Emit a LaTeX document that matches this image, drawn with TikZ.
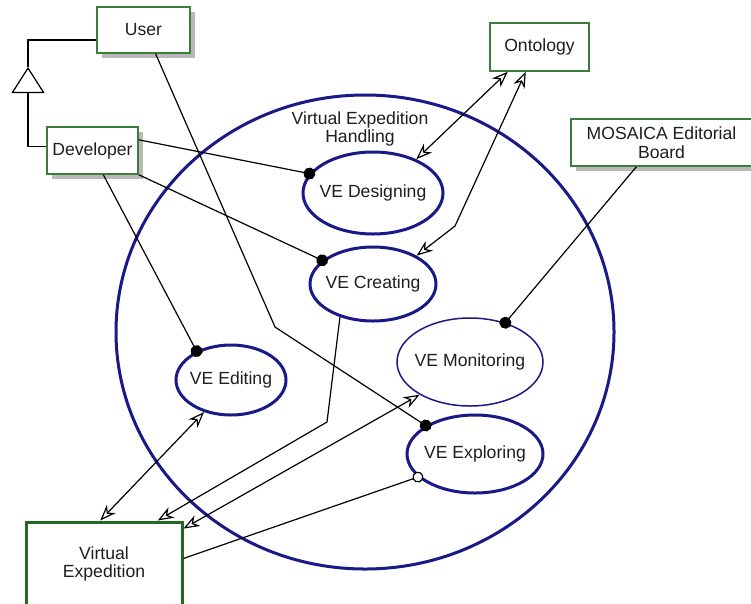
\documentclass[tikz,border=0pt]{standalone}
\usepackage{fontspec}
\setmainfont{Liberation Sans}
\usetikzlibrary{arrows.meta,shapes.geometric,shadows}
\definecolor{boxgreen}{RGB}{60,125,60}
\definecolor{vegreen}{RGB}{35,105,35}
\definecolor{veblue}{RGB}{25,25,135}
\definecolor{shadowgray}{RGB}{185,185,185}
\definecolor{txt}{RGB}{30,30,30}
\tikzset{
  myopen/.tip={Stealth[open,length=16pt,width=12pt,inset=5pt,fill=white]},
  mydot/.tip={Circle[length=12pt]},
  myring/.tip={Circle[open,length=11pt,fill=white]},
}
\begin{document}
\begin{tikzpicture}[x=1pt,y=-1pt,
  font=\fontsize{17.6}{18.5}\selectfont, text=txt,
  box/.style={draw=boxgreen, line width=1.5pt, fill=white, inner sep=0pt, align=center},
  shbox/.style={box, drop shadow={shadow xshift=5pt, shadow yshift=-5pt, fill=shadowgray, opacity=1}},
  vebox/.style={draw=vegreen, line width=3pt, fill=white, inner sep=0pt, align=center},
  uc/.style={ellipse, draw=veblue, line width=3pt, fill=white, inner sep=0pt},
  conn/.style={draw=black, line width=1.2pt},
  dotc/.style={conn, -mydot, shorten >=-6pt},
  ringc/.style={conn, -myring, shorten >=-5.5pt},
]
\useasboundingbox (0,0) rectangle (751,603);

% system boundary
\node[uc, minimum width=498pt, minimum height=474pt] (veh) at (365,332) {};
\node[align=center] (vehlabel) at (360,129) {Virtual Expedition\\Handling};

% actors / boxes
\node[shbox, minimum width=93pt, minimum height=46pt] (user) at (143.5,30) {User};
\node[shbox, minimum width=91pt, minimum height=47pt] (dev) at (92.5,150.5) {Developer};
\node[box, minimum width=99pt, minimum height=48pt] (onto) at (539.5,47) {Ontology};
\node[shbox, minimum width=181pt, minimum height=47pt] (mos) at (661.5,142.5) {MOSAICA Editorial\\Board};
\node[vebox, minimum width=156pt, minimum height=84pt] (vebox) at (104,564) {Virtual\\Expedition};

% use cases
\node[uc, minimum width=140pt, minimum height=82pt, label={center:VE Designing}] (des) at (373,193) {};
\node[uc, minimum width=126pt, minimum height=74pt, label={center:VE Creating}] (cre) at (373,284) {};
\node[uc, minimum width=110pt, minimum height=70pt, label={center:VE Editing}] (edi) at (231,380) {};
\node[uc, line width=1.5pt, minimum width=146pt, minimum height=88pt, label={center:VE Monitoring}] (mon) at (470,362) {};
\node[uc, minimum width=136pt, minimum height=78pt, label={center:VE Exploring}] (exp) at (475,454) {};

% bend points
\coordinate (tri) at (28,67);
\coordinate (b1) at (275,327);
\coordinate (b2) at (327,422);
\coordinate (b3) at (455,226);

% generalization
\draw[conn, -{Triangle[open,length=26pt,width=33pt,fill=white]}] (dev.175.6) -| (tri);
\draw[conn] (user.192) -| (tri);

% associations with dots
\draw[dotc] (user.-63) -- (b1) -- (exp.150);
\draw[dotc] (dev.13) -- (des.163);
\draw[dotc] (dev.south east) -- (cre.155);
\draw[dotc] (dev.-66) -- (edi.140.5);
\draw[dotc] (mos.-136.2) -- (mon.48.4);

% ontology links
\draw[conn, myopen-myopen] (onto.-142.7) -- (des.38.5);
\draw[conn, myopen-myopen] (onto.-119.4) -- (b3) -- (cre.33);

% virtual expedition links
\draw[conn, -myopen] (cre.-135) -- (b2) -- (vebox.39.5);
\draw[conn, myopen-myopen] (vebox.24) -- (mon.-147.6);
\draw[conn, myopen-myopen] (vebox.95.4) -- (edi.-130.5);
\draw[ringc] (vebox.4.4) -- (exp.-158.7);
\end{tikzpicture}
\end{document}
